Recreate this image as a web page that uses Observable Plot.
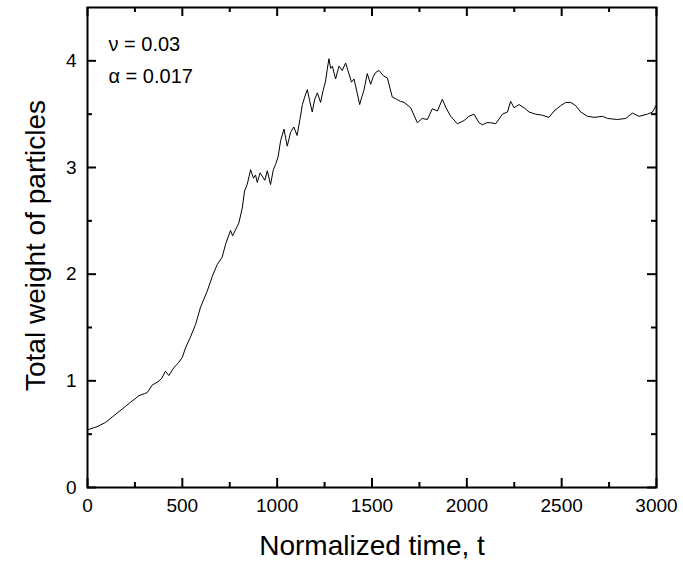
<!DOCTYPE html>
<html>
<head>
<meta charset="utf-8">
<script src="https://cdn.jsdelivr.net/npm/d3@7"></script>
<script src="https://cdn.jsdelivr.net/npm/@observablehq/plot@0.6"></script>
<style>
  html, body { margin: 0; padding: 0; background: #fff; }
  #chart { width: 683px; height: 561px; }
</style>
</head>
<body>
<div id="chart"></div>
<script>
// Normalized time t
const times = [0, 50, 95, 130, 165, 200, 227, 250, 270, 300, 315, 341, 370, 390, 411, 429, 450, 464, 480, 500,
  517, 545, 570, 596, 631, 658, 684, 710, 728, 754, 765, 798, 816, 828, 842, 860, 875, 886, 895, 910,
  921, 935, 948, 965, 980, 992, 1005, 1018, 1036, 1053, 1071, 1088, 1105, 1120, 1133, 1145, 1159, 1172, 1185, 1198,
  1212, 1229, 1242, 1255, 1264, 1273, 1282, 1291, 1308, 1326, 1343, 1361, 1378, 1392, 1405, 1423, 1435, 1446, 1457, 1475,
  1493, 1506, 1519, 1537, 1560, 1581, 1607, 1630, 1650, 1669, 1704, 1739, 1765, 1792, 1818, 1845, 1871, 1890, 1915, 1950,
  1985, 2011, 2038, 2064, 2082, 2105, 2126, 2152, 2188, 2214, 2231, 2249, 2275, 2302, 2328, 2363, 2398, 2433, 2460, 2495,
  2521, 2548, 2574, 2601, 2636, 2671, 2715, 2741, 2794, 2838, 2873, 2908, 2952, 2979, 3000];
// Total weight of particles
const weights = [0.54, 0.57, 0.61, 0.66, 0.71, 0.76, 0.80, 0.83, 0.86, 0.88, 0.89, 0.96, 0.99, 1.02, 1.09, 1.05, 1.11, 1.14, 1.17, 1.22,
  1.31, 1.42, 1.53, 1.69, 1.84, 1.98, 2.09, 2.16, 2.28, 2.41, 2.36, 2.48, 2.62, 2.78, 2.84, 2.98, 2.90, 2.93, 2.86, 2.95,
  2.92, 2.88, 2.97, 2.84, 2.98, 3.03, 3.10, 3.25, 3.36, 3.20, 3.33, 3.38, 3.30, 3.45, 3.59, 3.66, 3.73, 3.62, 3.52, 3.64,
  3.70, 3.61, 3.72, 3.81, 3.92, 4.02, 3.93, 3.95, 3.83, 3.95, 3.91, 3.98, 3.88, 3.80, 3.83, 3.69, 3.59, 3.66, 3.72, 3.88,
  3.78, 3.85, 3.89, 3.91, 3.86, 3.84, 3.66, 3.64, 3.62, 3.61, 3.56, 3.42, 3.46, 3.45, 3.55, 3.53, 3.64, 3.56, 3.48, 3.41,
  3.44, 3.48, 3.50, 3.42, 3.40, 3.42, 3.42, 3.41, 3.50, 3.52, 3.62, 3.56, 3.59, 3.56, 3.52, 3.50, 3.49, 3.47, 3.53, 3.58,
  3.61, 3.61, 3.58, 3.52, 3.48, 3.47, 3.48, 3.46, 3.45, 3.46, 3.51, 3.48, 3.50, 3.52, 3.59];

const xMajor = [0, 500, 1000, 1500, 2000, 2500, 3000];
const xMinor = [250, 750, 1250, 1750, 2250, 2750];
const yMajor = [0, 1, 2, 3, 4];
const yMinor = [0.5, 1.5, 2.5, 3.5];
const xTitle = "Normalized time, t";
const yTitle = "Total weight of particles";
const annotations = ["\u03BD = 0.03", "\u03B1 = 0.017"];

const data = times.map((t, i) => ({t, w: weights[i]}));

const W = 683, H = 561;
const mL = 87, mR = 27, mT = 7, mB = 74;
const fw = W - mL - mR, fh = H - mT - mB;
const majLen = 9, minLen = 5;

const chart = Plot.plot({
  width: W,
  height: H,
  marginLeft: mL,
  marginRight: mR,
  marginTop: mT,
  marginBottom: mB,
  style: {fontFamily: "'Liberation Sans', Arial, sans-serif", color: "black", background: "white"},
  x: {domain: [0, 3000]},
  y: {domain: [0, 4.5]},
  marks: [
    Plot.line(data, {x: "t", y: "w", stroke: "black", strokeWidth: 1}),
    // inward ticks, bottom & top
    Plot.tickX(xMajor, {x: d => d, insetTop: fh - majLen, stroke: "black", strokeWidth: 2}),
    Plot.tickX(xMajor, {x: d => d, insetBottom: fh - majLen, stroke: "black", strokeWidth: 2}),
    Plot.tickX(xMinor, {x: d => d, insetTop: fh - minLen, stroke: "black", strokeWidth: 2}),
    Plot.tickX(xMinor, {x: d => d, insetBottom: fh - minLen, stroke: "black", strokeWidth: 2}),
    // inward ticks, left & right
    Plot.tickY(yMajor, {y: d => d, insetRight: fw - majLen, stroke: "black", strokeWidth: 2}),
    Plot.tickY(yMajor, {y: d => d, insetLeft: fw - majLen, stroke: "black", strokeWidth: 2}),
    Plot.tickY(yMinor, {y: d => d, insetRight: fw - minLen, stroke: "black", strokeWidth: 2}),
    Plot.tickY(yMinor, {y: d => d, insetLeft: fw - minLen, stroke: "black", strokeWidth: 2}),
    Plot.frame({stroke: "black", strokeWidth: 2}),
    Plot.axisX(xMajor, {tickSize: 0, tickPadding: 11, fontSize: 19, label: null, tickFormat: d => String(d)}),
    Plot.axisY(yMajor, {tickSize: 0, tickPadding: 11, fontSize: 19, label: null, tickFormat: d => String(d)}),
    Plot.text([xTitle], {frameAnchor: "bottom", dy: 67, lineAnchor: "bottom", textAnchor: "middle", fontSize: 28, fill: "black"}),
    Plot.text([yTitle], {frameAnchor: "left", dx: -43, dy: -2, rotate: -90, lineAnchor: "bottom", textAnchor: "middle", fontSize: 28, fill: "black"}),
    Plot.text([annotations[0]], {frameAnchor: "top-left", dx: 21, dy: 43, lineAnchor: "bottom", textAnchor: "start", fontSize: 20, fill: "black"}),
    Plot.text([annotations[1]], {frameAnchor: "top-left", dx: 21, dy: 75, lineAnchor: "bottom", textAnchor: "start", fontSize: 20, fill: "black"})
  ]
});
document.getElementById("chart").appendChild(chart);
</script>
</body>
</html>
